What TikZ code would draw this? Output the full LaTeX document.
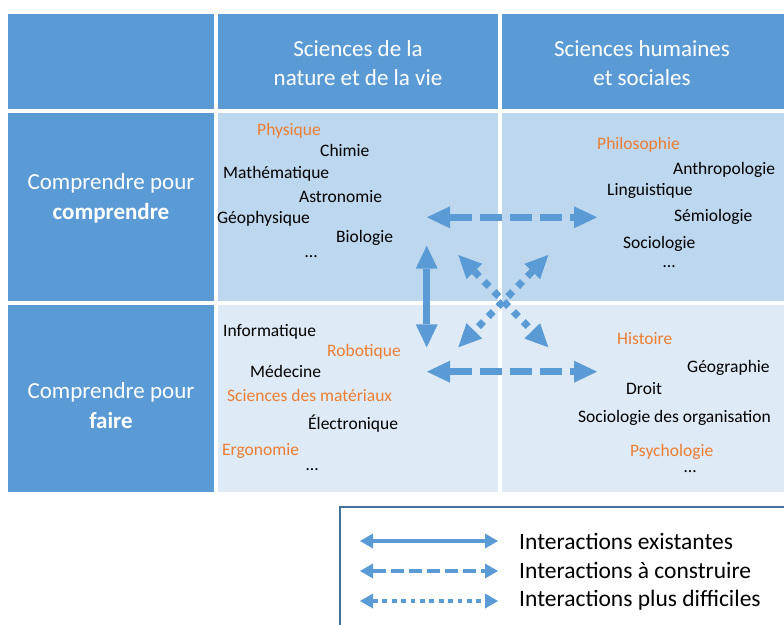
\documentclass[tikz,border=0pt]{standalone}
\usepackage{fontspec}
\setmainfont{Carlito}
\usetikzlibrary{arrows.meta}
\definecolor{cellblue}{HTML}{5B9BD5}
\definecolor{rowone}{HTML}{BDD7EE}
\definecolor{rowtwo}{HTML}{DEEAF6}
\definecolor{fieldorange}{HTML}{ED7D31}
\definecolor{legendline}{HTML}{41719C}
\tikzset{
  head_cell/.style={fill=cellblue},
  row_one_cell/.style={fill=rowone},
  row_two_cell/.style={fill=rowtwo},
  head_text/.style={align=center, text=white, font=\fontsize{23}{29}\selectfont, inner sep=0},
  row_text/.style={align=center, text=white, font=\fontsize{23}{30}\selectfont, inner sep=0},
  field_black/.style={anchor=base west, inner sep=0, text=black, font=\fontsize{17.5}{20}\selectfont},
  field_orange/.style={field_black, text=fieldorange},
  arrow_solid/.style={{Triangle[length=23pt,width=22pt,line width=0pt]}-{Triangle[length=23pt,width=22pt,line width=0pt]}, line width=7pt, color=cellblue},
  arrow_dashed/.style={arrow_solid, dash pattern=on 22pt off 8pt},
  arrow_dotted/.style={arrow_solid, dash pattern=on 7pt off 7pt},
  legend_solid/.style={{Triangle[length=13pt,width=15pt,line width=0pt]}-{Triangle[length=13pt,width=15pt,line width=0pt]}, line width=4.7pt, color=cellblue},
  legend_dashed/.style={legend_solid, dash pattern=on 13pt off 5pt},
  legend_dotted/.style={legend_solid, dash pattern=on 4.7pt off 4.7pt},
  legend_text/.style={anchor=base west, inner sep=0, font=\fontsize{23.5}{28}\selectfont}
}
\begin{document}
\begin{tikzpicture}[x=1pt, y=-1pt]
\useasboundingbox (0,0) rectangle (784,624);

%%% table cells
\fill[head_cell] (8,14) rectangle (214,108.7);
\fill[head_cell] (218,14) rectangle (498,108.7);
\fill[head_cell] (502,14) rectangle (784,108.7);
\fill[head_cell] (8,113) rectangle (214,300.7);
\fill[row_one_cell] (218,113) rectangle (498,300.7);
\fill[row_one_cell] (502,113) rectangle (784,300.7);
\fill[head_cell] (8,305) rectangle (214,492);
\fill[row_two_cell] (218,305) rectangle (498,492);
\fill[row_two_cell] (502,305) rectangle (784,492);

%%% headers
\node[head_text] at (358,63) (nature) {Sciences de la\\nature et de la vie};
\node[head_text] at (642,63) (humaines) {Sciences humaines\\et sociales};
\node[row_text] at (111,198) (comprendre) {Comprendre pour\\\textbf{comprendre}};
\node[row_text] at (111,406) (faire) {Comprendre pour\\\textbf{faire}};

%%% nature, comprendre
\node[field_orange] at (257,135.7) (physique) {Physique};
\node[field_black] at (320,156.7) (chimie) {Chimie};
\node[field_black] at (223,178.3) (math) {Mathématique};
\node[field_black] at (299,202) (astro) {Astronomie};
\node[field_black] at (217,223.7) (geophys) {Géophysique};
\node[field_black] at (336,242.7) (bio) {Biologie};
\node[field_black] at (305,257.7) (etc_a) {…};

% humaines, comprendre
\node[field_orange] at (597,149.3) (philo) {Philosophie};
\node[field_black] at (673,174) (anthropo) {Anthropologie};
\node[field_black] at (607,195) (linguist) {Linguistique};
\node[field_black] at (674,221.7) (semio) {Sémiologie};
\node[field_black] at (623,248.3) (socio) {Sociologie};
\node[field_black] at (663,267) (etc_b) {…};

%%% nature, faire
\node[field_black] at (223,336.7) (info) {Informatique};
\node[field_orange] at (327,356.7) (robot) {Robotique};
\node[field_black] at (250,377.3) (medecine) {Médecine};
\node[field_orange] at (227,401.7) (materiaux) {Sciences des matériaux};
\node[field_black] at (308,429.3) (electro) {Électronique};
\node[field_orange] at (222,455.7) (ergo) {Ergonomie};
\node[field_black] at (306,470.7) (etc_c) {…};

% humaines, faire
\node[field_orange] at (617,344) (histoire) {Histoire};
\node[field_black] at (687,372.7) (geo) {Géographie};
\node[field_black] at (626,394) (droit) {Droit};
\node[field_black] at (578,422.7) (socio_org) {Sociologie des organisation};
\node[field_orange] at (630,456) (psycho) {Psychologie};
\node[field_black] at (684,472.5) (etc_d) {…};

%%% interaction arrows
\coordinate (top_l) at (427,217.3);
\coordinate (top_r) at (597,217.3);
\coordinate (bot_l) at (427,371.7);
\coordinate (bot_r) at (597,371.7);
\coordinate (vert_t) at (426.7,245.7);
\coordinate (vert_b) at (426.7,347.3);
\coordinate (diag_ul) at (458.3,255);
\coordinate (diag_lr) at (548.3,347.3);
\coordinate (diag_ur) at (548.3,255);
\coordinate (diag_ll) at (458.3,347.3);

\draw[arrow_dashed] (top_l) -- (top_r);
\draw[arrow_dashed] (bot_l) -- (bot_r);
\draw[arrow_solid] (vert_t) -- (vert_b);
\draw[arrow_dotted] (diag_ul) -- (diag_lr);
\draw[arrow_dotted] (diag_ur) -- (diag_ll);

%%% legend
\draw[line width=1.5pt, color=legendline] (340,507) rectangle (800,640);
\coordinate (leg_a_l) at (360,541);
\coordinate (leg_a_r) at (498,541);
\coordinate (leg_b_l) at (360,571);
\coordinate (leg_b_r) at (498,571);
\coordinate (leg_c_l) at (360,601);
\coordinate (leg_c_r) at (498,601);
\draw[legend_solid] (leg_a_l) -- (leg_a_r);
\draw[legend_dashed] (leg_b_l) -- (leg_b_r);
\draw[legend_dotted] (leg_c_l) -- (leg_c_r);
\node[legend_text] at (519,549.3) (existantes) {Interactions existantes};
\node[legend_text] at (519,578.3) (construire) {Interactions à construire};
\node[legend_text] at (519,606.7) (difficiles) {Interactions plus difficiles};

\end{tikzpicture}
\end{document}
